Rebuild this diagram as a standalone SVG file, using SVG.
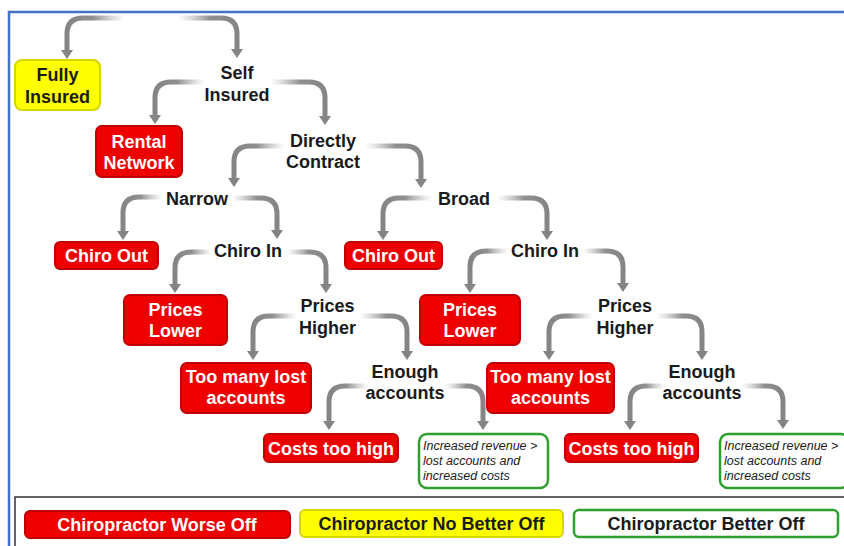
<svg xmlns="http://www.w3.org/2000/svg" width="844" height="546" viewBox="0 0 844 546">
<defs>
<linearGradient id="fadeL" x1="1" y1="0" x2="0" y2="0">
<stop offset="0" stop-color="#b0b0b0" stop-opacity="0"/>
<stop offset="0.55" stop-color="#8f8f8f" stop-opacity="1"/>
<stop offset="1" stop-color="#858585" stop-opacity="1"/>
</linearGradient>
<linearGradient id="fadeR" x1="0" y1="0" x2="1" y2="0">
<stop offset="0" stop-color="#b0b0b0" stop-opacity="0"/>
<stop offset="0.55" stop-color="#8f8f8f" stop-opacity="1"/>
<stop offset="1" stop-color="#858585" stop-opacity="1"/>
</linearGradient>
<marker id="head" markerUnits="userSpaceOnUse" markerWidth="10" markerHeight="12" viewBox="0 0 10 12" refX="0" refY="6" orient="auto">
<path d="M0,0 L9,6 L0,12 Z" fill="#848484"/>
</marker>
</defs>
<style>
.lbl{font-family:"Liberation Sans",Arial,sans-serif;font-weight:bold;font-size:18px;fill:#1a1a1a;text-anchor:middle}
.wt{fill:#ffffff}
.red{fill:#ee0000;stroke:#c00000;stroke-width:2}
.yel{fill:#ffff00;stroke:#d6d600;stroke-width:2}
.grn{fill:#ffffff;stroke:#2fa02f;stroke-width:2.5}
.it{font-family:"Liberation Sans",Arial,sans-serif;font-style:italic;font-size:12.5px;fill:#1a1a1a}
.al{fill:none;stroke:url(#fadeL);stroke-width:5;marker-end:url(#head)}
.ar{fill:none;stroke:url(#fadeR);stroke-width:5;marker-end:url(#head)}
</style>
<rect x="0" y="0" width="844" height="546" fill="#ffffff"/>
<path d="M9,546 V12 H844" fill="none" stroke="#4472c4" stroke-width="2.5"/>
<path d="M15,546 V497 H844" fill="none" stroke="#333333" stroke-width="1.5"/>

<g id="connectors">
<path class="al" d="M125,18 H83 Q67,18 67,34 V50"/>
<path class="ar" d="M178,18 H221 Q237,18 237,34 V49"/>
<path class="al" d="M205,82 H171 Q155,82 155,98 V115"/>
<path class="ar" d="M270,82 H309 Q325,82 325,98 V116"/>
<path class="al" d="M285,146 H250 Q234,146 234,162 V178"/>
<path class="ar" d="M365,146 H405 Q421,146 421,162 V179"/>
<path class="al" d="M162,197 H139 Q123,197 123,213 V231"/>
<path class="ar" d="M232,198 H261 Q277,198 277,214 V230"/>
<path class="al" d="M432,198 H399 Q383,198 383,214 V231"/>
<path class="ar" d="M497,198 H531 Q547,198 547,214 V231"/>
<path class="al" d="M212,252 H191 Q175,252 175,268 V284"/>
<path class="ar" d="M287,252 H310 Q326,252 326,268 V284"/>
<path class="al" d="M508,251 H486 Q470,251 470,267 V284"/>
<path class="ar" d="M583,251 H607 Q623,251 623,267 V283"/>
<path class="al" d="M297,316 H269 Q253,316 253,332 V351"/>
<path class="ar" d="M360,316 H391 Q407,316 407,332 V351"/>
<path class="al" d="M593,316 H565 Q549,316 549,332 V351"/>
<path class="ar" d="M657,316 H686 Q702,316 702,332 V351"/>
<path class="al" d="M368,386 H345 Q329,386 329,402 V421"/>
<path class="ar" d="M445,386 H467 Q483,386 483,402 V421"/>
<path class="al" d="M665,386 H646 Q630,386 630,402 V421"/>
<path class="ar" d="M742,386 H767 Q783,386 783,402 V420"/>
</g>

<g id="fully-insured">
<rect class="yel" x="15" y="60" width="85" height="50" rx="7"/>
<text class="lbl" x="57.5" y="81">Fully</text>
<text class="lbl" x="57.5" y="103">Insured</text>
</g>
<g id="self-insured">
<text class="lbl" x="237" y="79">Self</text>
<text class="lbl" x="237" y="101">Insured</text>
</g>
<g id="rental-network">
<rect class="red" x="96" y="126" width="86" height="51" rx="6"/>
<text class="lbl wt" x="139" y="148">Rental</text>
<text class="lbl wt" x="139" y="169">Network</text>
</g>
<g id="directly-contract">
<text class="lbl" x="323" y="147">Directly</text>
<text class="lbl" x="323" y="168">Contract</text>
</g>
<g id="narrow">
<text class="lbl" x="197" y="205">Narrow</text>
</g>
<g id="broad">
<text class="lbl" x="464" y="205">Broad</text>
</g>
<g id="chiro-out-1">
<rect class="red" x="55" y="242" width="103" height="27" rx="5"/>
<text class="lbl wt" x="106.5" y="262">Chiro Out</text>
</g>
<g id="chiro-out-2">
<rect class="red" x="345" y="242" width="97" height="27" rx="5"/>
<text class="lbl wt" x="393.5" y="262">Chiro Out</text>
</g>
<g id="chiro-in-1">
<text class="lbl" x="248" y="257">Chiro In</text>
</g>
<g id="chiro-in-2">
<text class="lbl" x="545" y="257">Chiro In</text>
</g>
<g id="prices-lower-1">
<rect class="red" x="124" y="295" width="103" height="50" rx="6"/>
<text class="lbl wt" x="175.5" y="316">Prices</text>
<text class="lbl wt" x="175.5" y="337">Lower</text>
</g>
<g id="prices-lower-2">
<rect class="red" x="420" y="295" width="100" height="50" rx="6"/>
<text class="lbl wt" x="470" y="316">Prices</text>
<text class="lbl wt" x="470" y="337">Lower</text>
</g>
<g id="prices-higher-1">
<text class="lbl" x="327.5" y="312">Prices</text>
<text class="lbl" x="327.5" y="334">Higher</text>
</g>
<g id="prices-higher-2">
<text class="lbl" x="625" y="312">Prices</text>
<text class="lbl" x="625" y="334">Higher</text>
</g>
<g id="too-many-1">
<rect class="red" x="181" y="363" width="130" height="50" rx="6"/>
<text class="lbl wt" x="246" y="383">Too many lost</text>
<text class="lbl wt" x="246" y="404">accounts</text>
</g>
<g id="too-many-2">
<rect class="red" x="487" y="363" width="127" height="50" rx="6"/>
<text class="lbl wt" x="550.5" y="383">Too many lost</text>
<text class="lbl wt" x="550.5" y="404">accounts</text>
</g>
<g id="enough-1">
<text class="lbl" x="405" y="378">Enough</text>
<text class="lbl" x="405" y="399">accounts</text>
</g>
<g id="enough-2">
<text class="lbl" x="702" y="378">Enough</text>
<text class="lbl" x="702" y="399">accounts</text>
</g>
<g id="costs-1">
<rect class="red" x="264" y="434" width="134" height="28" rx="5"/>
<text class="lbl wt" x="331" y="454.5">Costs too high</text>
</g>
<g id="costs-2">
<rect class="red" x="565" y="434" width="133" height="28" rx="5"/>
<text class="lbl wt" x="631.5" y="454.5">Costs too high</text>
</g>
<g id="revenue-1">
<rect class="grn" x="419" y="434" width="129" height="54" rx="8"/>
<text class="it" x="423" y="450">Increased revenue &gt;</text>
<text class="it" x="423" y="465">lost accounts and</text>
<text class="it" x="423" y="480">increased costs</text>
</g>
<g id="revenue-2">
<rect class="grn" x="720" y="434" width="129" height="54" rx="8"/>
<text class="it" x="724" y="450">Increased revenue &gt;</text>
<text class="it" x="724" y="465">lost accounts and</text>
<text class="it" x="724" y="480">increased costs</text>
</g>

<g id="legend-worse">
<rect class="red" x="25" y="511" width="265" height="27" rx="5"/>
<text class="lbl wt" x="157" y="531">Chiropractor Worse Off</text>
</g>
<g id="legend-nobetter">
<rect class="yel" x="300" y="510" width="263" height="27" rx="5"/>
<text class="lbl" x="431.5" y="530">Chiropractor No Better Off</text>
</g>
<g id="legend-better">
<rect class="grn" x="574" y="510" width="264" height="27" rx="5"/>
<text class="lbl" x="706" y="530">Chiropractor Better Off</text>
</g>
</svg>
